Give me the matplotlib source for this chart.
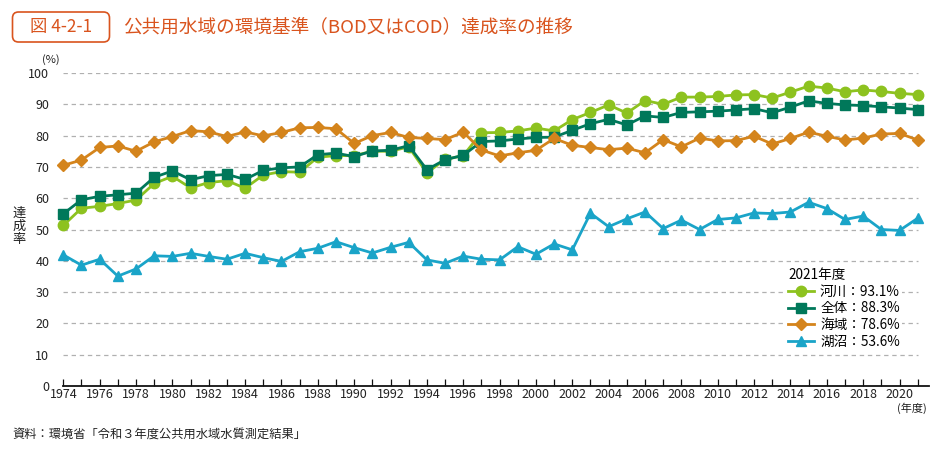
import numpy as np
import matplotlib
matplotlib.use("Agg")
import matplotlib.pyplot as plt
from matplotlib.patches import FancyBboxPatch
from matplotlib.transforms import IdentityTransform
from matplotlib.ticker import MultipleLocator

# =========================
# DATA
# =========================
years = list(range(1974, 2022))

kasen = [51.3, 56.8, 57.4, 58.3, 59.4, 64.7, 67.0, 63.3, 65.0, 65.6,
         63.2, 67.4, 68.5, 68.3, 73.1, 73.6, 73.6, 75.0, 75.0, 76.4,
         68.1, 72.4, 73.6, 80.9, 81.0, 81.5, 82.4, 81.5, 85.1, 87.4,
         89.8, 87.2, 91.2, 90.0, 92.3, 92.3, 92.5, 93.0, 93.1, 92.0,
         93.9, 95.8, 95.2, 94.0, 94.6, 94.1, 93.5, 93.1]

zentai = [55.0, 59.5, 60.6, 61.1, 61.6, 66.7, 68.7, 65.9, 67.2, 67.6,
          66.0, 68.9, 69.7, 70.0, 73.9, 74.4, 73.3, 75.1, 75.3, 76.8,
          69.1, 72.3, 73.7, 78.1, 78.3, 78.9, 79.4, 79.5, 81.7, 83.8,
          85.2, 83.4, 86.3, 85.8, 87.4, 87.6, 87.8, 88.2, 88.6, 87.3,
          89.1, 91.1, 90.3, 89.8, 89.6, 89.2, 88.8, 88.3]

kaiiki = [70.5, 72.2, 76.2, 76.7, 75.0, 78.0, 79.7, 81.6, 81.2, 79.7,
          81.2, 79.9, 81.0, 82.5, 82.6, 82.2, 77.5, 80.0, 81.0, 79.4,
          79.1, 78.7, 81.1, 75.4, 73.5, 74.5, 75.3, 79.1, 76.9, 76.2,
          75.5, 76.0, 74.5, 78.7, 76.4, 79.2, 78.3, 78.4, 79.8, 77.3,
          79.1, 81.1, 79.8, 78.6, 79.2, 80.5, 80.7, 78.6]

koshou = [41.9, 38.6, 40.5, 35.1, 37.4, 41.6, 41.4, 42.4, 41.4, 40.5,
          42.4, 41.0, 39.8, 42.9, 44.0, 46.1, 44.2, 42.5, 44.3, 45.9,
          40.3, 39.2, 41.5, 40.5, 40.3, 44.5, 42.1, 45.4, 43.5, 55.2,
          50.9, 53.4, 55.6, 50.3, 53.0, 50.0, 53.2, 53.7, 55.3, 55.1,
          55.6, 58.7, 56.7, 53.2, 54.3, 50.0, 49.7, 53.6]

names = ["河川", "全体", "海域", "湖沼"]
latest = [93.1, 88.3, 78.6, 53.6]

# =========================
# STYLE
# =========================
plt.rcParams["font.family"] = ["Noto Sans CJK JP", "DejaVu Sans"]

ORANGE = "#d9541e"
C_KASEN = "#8dc21f"
C_ZENTAI = "#00785a"
C_KAIIKI = "#d4841c"
C_KOSHOU = "#1aa4c8"
TXT = "#222222"

W, H = 943, 449
fig = plt.figure(figsize=(W / 100, H / 100), dpi=100)

# axes box: 1974 at x=63, bottom (0%) at y=386, top (100%) at y=73
left, right = 63.3, 929
bottom, top = 386, 73
ax = fig.add_axes([left / W, 1 - bottom / H, (right - left) / W, (bottom - top) / H])

px_per_year = (917.7 - 63.3) / 47
ax.set_xlim(1974, 1974 + (right - left) / px_per_year)
ax.set_ylim(0, 100)

# grid
for v in range(10, 101, 10):
    ax.plot([1974, 2021], [v, v], color="#b0b0b0", lw=0.9,
            ls=(0, (3.5, 3)), zorder=1)

series = [
    (kasen, C_KASEN, "o", 7.5),
    (zentai, C_ZENTAI, "s", 7.0),
    (kaiiki, C_KAIIKI, "D", 6.0),
    (koshou, C_KOSHOU, "^", 7.5),
]
for (vals, col, mk, ms), nm, lv in zip(series, names, latest):
    ax.plot(years, vals, color=col, lw=2.0, marker=mk, ms=ms,
            mec=col, mfc=col, label=f"{nm}：{lv}%", zorder=3, clip_on=False)

# axes styling
for s in ["top", "right", "left"]:
    ax.spines[s].set_visible(False)
ax.spines["bottom"].set_linewidth(1.3)
ax.spines["bottom"].set_color("#111111")

ax.xaxis.set_minor_locator(MultipleLocator(1))
ax.set_xticks(range(1974, 2021, 2))
ax.tick_params(axis="x", which="both", direction="in", length=5, width=0.9,
               color="#111111", labelsize=9, labelcolor=TXT, pad=1.5)
ax.set_yticks(range(0, 101, 10))
ax.tick_params(axis="y", length=0, labelsize=9, labelcolor=TXT, pad=10)

# legend
leg = ax.legend(loc="upper left", bbox_to_anchor=((786 - left) / (right - left), (bottom - 266) / (bottom - top)),
                title="2021年度", frameon=True, fontsize=9.8, title_fontsize=9.8,
                handlelength=1.9, handletextpad=0.45, labelspacing=0.2,
                borderpad=0.15, borderaxespad=0, alignment="left")
leg.get_frame().set_facecolor("white")
leg.get_frame().set_edgecolor("none")
leg.get_frame().set_alpha(1)
leg.set_zorder(5)

# texts
fig.text(42 / W, 1 - 60 / H, "(%)", fontsize=8, color=TXT, va="center")
fig.text(19 / W, 1 - 226 / H, "達\n成\n率", fontsize=9.5, color=TXT,
         ha="center", va="center", linespacing=1.0)
fig.text(912 / W, 1 - 408 / H, "(年度)", fontsize=8, color=TXT,
         ha="center", va="center")
fig.text(12 / W, 1 - 434 / H, "資料：環境省「令和３年度公共用水域水質測定結果」",
         fontsize=8.8, color=TXT, va="center")

# title
box = FancyBboxPatch((12.5, H - 42), 97, 30, boxstyle="round,pad=0,rounding_size=6",
                     transform=IdentityTransform(), fc="white", ec=ORANGE, lw=1.2)
fig.add_artist(box)
fig.text(61 / W, 1 - 27 / H, "図 4-2-1", fontsize=12.5, color=ORANGE,
         ha="center", va="center")
fig.text(123 / W, 1 - 27 / H, "公共用水域の環境基準（BOD又はCOD）達成率の推移",
         fontsize=13.4, color=ORANGE, va="center")

fig.savefig("out.png", dpi=100)
